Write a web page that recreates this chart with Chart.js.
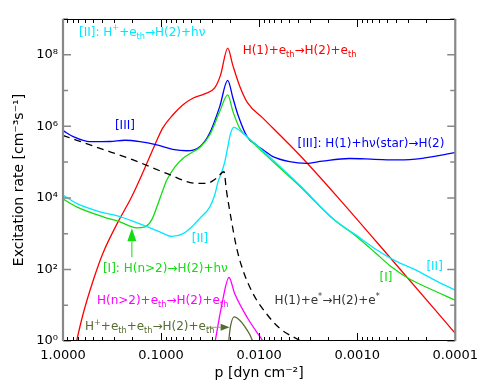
<!DOCTYPE html>
<html>
<head>
<meta charset="utf-8">
<script src="https://cdn.jsdelivr.net/npm/chart.js@4.4.1/dist/chart.umd.min.js"></script>
<style>
  html, body { margin: 0; padding: 0; background: #fff; }
</style>
</head>
<body>
<canvas id="chart" width="485" height="388"></canvas>
<script>
// axis ticks
const xMajor = [1, 0.1, 0.01, 0.001, 0.0001];
const xTickLabels = ['1.0000', '0.1000', '0.0100', '0.0010', '0.0001'];
const xMinorMantissa = [2, 3, 4, 5, 6, 7, 8, 9];
const yDecades = [1, 1e1, 1e2, 1e3, 1e4, 1e5, 1e6, 1e7, 1e8, 1e9];
const yMajor = [1, 1e2, 1e4, 1e6, 1e8];
const yTickLabels = ['10⁰', '10²', '10⁴', '10⁶', '10⁸'];

// H(1)+e_th -> H(2)+e_th
const redP = [0.764, 0.7255, 0.621, 0.4915, 0.3916, 0.2755, 0.1999, 0.1463, 0.1158, 0.096, 0.076, 0.0601, 0.0475, 0.0359, 0.0284, 0.0247, 0.0209, 0.0186, 0.0158, 0.0131, 0.0092, 0.00387, 0.00152, 0.000438, 0.0001];
const redRate = [0.5, 1, 5.96, 50, 285, 2100, 10550, 68400, 3.01e5, 9.02e5, 2.08e6, 3.97e6, 6.11e6, 8.07e6, 1.19e7, 2.75e7, 1.53e8, 5.23e7, 1.35e7, 4.52e6, 1.72e6, 1.58e5, 9270, 181, 1.64];

// [III] H(1)+hv(star) -> H(2)
const blueP = [1, 0.7857, 0.531, 0.3323, 0.2339, 0.1646, 0.1105, 0.076, 0.0547, 0.0403, 0.0319, 0.02523, 0.02092, 0.01848, 0.01643, 0.01325, 0.01068, 0.00879, 0.00724, 0.00489, 0.00331, 0.002258, 0.0012, 0.000667, 0.000372, 0.000217, 0.0001];
const blueRate = [7.57e5, 5.14e5, 3.72e5, 3.77e5, 4.08e5, 3.72e5, 3.01e5, 2.28e5, 2.08e5, 2.7e5, 6.53e5, 3.56e6, 1.93e7, 6.11e6, 2.08e6, 5.14e5, 3.01e5, 2.05e5, 1.42e5, 1.03e5, 9.25e4, 1.07e5, 1.26e5, 1.2e5, 1.15e5, 1.28e5, 1.83e5];

// [I] H(n>2) -> H(2)+hv
const greenP = [1, 0.7255, 0.3889, 0.263, 0.1778, 0.1463, 0.1251, 0.1105, 0.0983, 0.0874, 0.0725, 0.0596, 0.0486, 0.0403, 0.0319, 0.02523, 0.02092, 0.01848, 0.01579, 0.013, 0.00387, 0.001704, 0.001025, 0.000641, 0.00047, 0.000299, 0.000184, 0.0001];
const greenRate = [9270, 5640, 2960, 2145, 1457, 1553, 2393, 5540, 1.36e4, 3.15e4, 7.29e4, 1.28e5, 1.86e5, 2.56e5, 5.74e5, 2.58e6, 7.56e6, 2.58e6, 8.84e5, 4.82e5, 2.14e4, 2393, 853, 280, 131.5, 55.8, 29.3, 13.8];

// [II] H+ + e_th -> H(2)+hv
const cyanP = [1, 0.7255, 0.4201, 0.263, 0.1523, 0.103, 0.0777, 0.0596, 0.0472, 0.0403, 0.0319, 0.02837, 0.02626, 0.02408, 0.02244, 0.02077, 0.01973, 0.01818, 0.01462, 0.013, 0.00387, 0.001704, 0.001025, 0.000641, 0.000408, 0.000251, 0.000157, 0.0001];
const cyanRate = [1.2e4, 7030, 4085, 3000, 1734, 1127, 838, 1003, 1679, 2670, 5540, 1.2e4, 2.77e4, 5.28e4, 9.91e4, 2.82e5, 5.74e5, 9.3e5, 6.4e5, 4.9e5, 2.29e4, 2393, 910, 362, 174, 95.3, 47.8, 26.3];

// H(1)+e* -> H(2)+e*
const darkP = [1, 0.4201, 0.1925, 0.088, 0.04356, 0.03447, 0.02726, 0.02282, 0.02158, 0.01919, 0.01706, 0.01462, 0.01156, 0.00845, 0.00618, 0.00378];
const darkRate = [5.56e5, 2.43e5, 1.15e5, 4.86e4, 2.55e4, 2.55e4, 3.52e4, 5.38e4, 1.66e4, 2393, 428, 95.3, 21.2, 5.85, 2.27, 1];

// H(n>2)+e_th -> H(2)+e_th
const magentaP = [0.02804, 0.02424, 0.0203, 0.01776, 0.01309, 0.00915];
const magentaRate = [1, 8.95, 59.6, 21.2, 4.32, 1];

// H+ + e_th + e_th -> H(2)+e_th
const oliveP = [0.02043, 0.01963, 0.01797, 0.01579, 0.01405, 0.0125, 0.01164];
const oliveRate = [1, 2.47, 4.7, 3.8, 2.58, 1.54, 1];

const FONT = '"DejaVu Sans", sans-serif';
const RED = '#ff0000', BLUE = '#0000ff', GREEN = '#11dd11', CYAN = '#00e8ff',
      MAGENTA = '#ff00ff', OLIVE = '#556b2f', DARK = '#333333';

// text labels, placed in data coordinates (left edge, vertical middle)
const notes = [
  { p: 0.687, r: 4.1e8, color: CYAN, text: '[II]: H^{+}+e_{th}→H(2)+hν' },
  { p: 0.01472, r: 1.29e8, color: RED, text: 'H(1)+e_{th}→H(2)+e_{th}' },
  { p: 0.2956, r: 1.03e6, color: BLUE, text: '[III]' },
  { p: 0.00406, r: 3.21e5, color: BLUE, text: '[III]: H(1)+hν(star)→H(2)' },
  { p: 0.0486, r: 703, color: CYAN, text: '[II]' },
  { p: 0.3916, r: 101.7, color: GREEN, text: '[I]: H(n>2)→H(2)+hν' },
  { p: 0.4508, r: 12.9, color: MAGENTA, text: 'H(n>2)+e_{th}→H(2)+e_{th}' },
  { p: 0.597, r: 2.42, color: OLIVE, text: 'H^{+}+e_{th}+e_{th}→H(2)+e_{th}' },
  { p: 0.00695, r: 12.9, color: DARK, text: 'H(1)+e^{*}→H(2)+e^{*}' },
  { p: 0.000593, r: 56.9, color: GREEN, text: '[I]' },
  { p: 0.000197, r: 119, color: CYAN, text: '[II]' }
];

const arrows = [
  { p0: 0.1985, r0: 220, p1: 0.1985, r1: 1413, line: GREEN, head: GREEN, len: 13, w: 9 },
  { p0: 0.0341, r0: 2.42, p1: 0.0200, r1: 2.42, line: '#999999', head: OLIVE, len: 9, w: 7 }
];

function pts(ps, rs) {
  return ps.map((p, i) => ({ x: p, y: rs[i] }));
}

function parseRich(s) {
  const parts = [];
  const re = /([_^])\{([^}]*)\}|([^_^]+)/g;
  let m;
  while ((m = re.exec(s))) {
    if (m[1]) parts.push({ t: m[2], mode: m[1] === '_' ? 'sub' : 'sup' });
    else parts.push({ t: m[3], mode: '' });
  }
  return parts;
}

function drawRich(ctx, x, y, s, size, color) {
  ctx.fillStyle = color;
  ctx.textBaseline = 'middle';
  ctx.textAlign = 'left';
  for (const part of parseRich(s)) {
    const sz = part.mode ? size * 0.68 : size;
    const dy = part.mode === 'sub' ? size * 0.32 : part.mode === 'sup' ? -size * 0.38 : 0;
    ctx.font = sz + 'px ' + FONT;
    ctx.fillText(part.t, x, y + dy);
    x += ctx.measureText(part.t).width;
  }
}

const findMajor = (list, v) => list.findIndex(m => Math.abs(m - v) / m < 1e-6);

const framePlugin = {
  id: 'frame',
  afterDatasetsDraw(chart) {
    const { ctx, chartArea: a, scales: { x, y } } = chart;
    ctx.save();

    // inward ticks, x on top and bottom (majors from the scale, minors in between)
    const xTicks = [];
    x.ticks.forEach(t => {
      xTicks.push({ v: t.value, len: 8 });
      if (t.value < 1) xMinorMantissa.forEach(k => xTicks.push({ v: k * t.value, len: 4 }));
    });
    ctx.strokeStyle = '#000';
    ctx.lineWidth = 1;
    ctx.beginPath();
    xTicks.forEach(t => {
      const px = Math.round(x.getPixelForValue(t.v)) + 0.5;
      ctx.moveTo(px, a.bottom); ctx.lineTo(px, a.bottom - t.len);
      ctx.moveTo(px, a.top); ctx.lineTo(px, a.top + t.len);
    });
    ctx.stroke();

    // y ticks left and right
    ctx.strokeStyle = '#888';
    ctx.lineWidth = 1.5;
    ctx.beginPath();
    y.ticks.forEach(t => {
      const py = y.getPixelForValue(t.value);
      const len = findMajor(yMajor, t.value) >= 0 ? 8 : 5;
      ctx.moveTo(a.left, py); ctx.lineTo(a.left + len, py);
      ctx.moveTo(a.right, py); ctx.lineTo(a.right - len, py);
    });
    ctx.stroke();

    // frame
    ctx.strokeStyle = '#000';
    ctx.lineWidth = 1;
    ctx.beginPath();
    ctx.moveTo(a.left, Math.round(a.top) + 0.5); ctx.lineTo(a.right, Math.round(a.top) + 0.5);
    ctx.moveTo(a.left, Math.round(a.bottom) - 0.5); ctx.lineTo(a.right, Math.round(a.bottom) - 0.5);
    ctx.stroke();
    ctx.strokeStyle = '#888';
    ctx.lineWidth = 2.2;
    ctx.beginPath();
    ctx.moveTo(a.left, a.top); ctx.lineTo(a.left, a.bottom);
    ctx.moveTo(a.right, a.top); ctx.lineTo(a.right, a.bottom);
    ctx.stroke();

    // arrows
    arrows.forEach(ar => {
      const x0 = x.getPixelForValue(ar.p0), y0 = y.getPixelForValue(ar.r0);
      const x1 = x.getPixelForValue(ar.p1), y1 = y.getPixelForValue(ar.r1);
      const ang = Math.atan2(y1 - y0, x1 - x0);
      const bx = x1 - ar.len * Math.cos(ang), by = y1 - ar.len * Math.sin(ang);
      ctx.strokeStyle = ar.line;
      ctx.lineWidth = 1;
      ctx.beginPath();
      ctx.moveTo(x0, y0); ctx.lineTo(bx, by);
      ctx.stroke();
      const nx = -Math.sin(ang) * ar.w / 2, ny = Math.cos(ang) * ar.w / 2;
      ctx.fillStyle = ar.head;
      ctx.beginPath();
      ctx.moveTo(x1, y1);
      ctx.lineTo(bx + nx, by + ny);
      ctx.lineTo(bx - nx, by - ny);
      ctx.closePath();
      ctx.fill();
    });

    // labels
    notes.forEach(n => {
      drawRich(ctx, x.getPixelForValue(n.p), y.getPixelForValue(n.r), n.text, 12, n.color);
    });
    ctx.restore();
  }
};

const line = (data, color, extra) => Object.assign({
  data, borderColor: color, borderWidth: 1.3, pointRadius: 0,
  fill: false, cubicInterpolationMode: 'monotone'
}, extra || {});

new Chart(document.getElementById('chart'), {
  type: 'line',
  data: {
    datasets: [
      line(pts(darkP, darkRate), '#000000', { borderDash: [7, 5], borderWidth: 1.3 }),
      line(pts(oliveP, oliveRate), OLIVE),
      line(pts(magentaP, magentaRate), MAGENTA),
      line(pts(cyanP, cyanRate), CYAN),
      line(pts(greenP, greenRate), GREEN),
      line(pts(blueP, blueRate), BLUE),
      line(pts(redP, redRate), RED)
    ]
  },
  options: {
    responsive: false,
    animation: false,
    devicePixelRatio: 1,
    layout: { padding: { top: 19, right: 29, left: 0, bottom: 0 } },
    plugins: { legend: { display: false }, tooltip: { enabled: false } },
    scales: {
      x: {
        type: 'logarithmic',
        reverse: true,
        min: 0.0001,
        max: 1,
        afterBuildTicks: s => { s.ticks = xMajor.map(v => ({ value: v })); },
        afterFit: s => { s.height = 47; },
        grid: { display: false, drawTicks: false },
        border: { display: false },
        ticks: {
          autoSkip: false,
          maxRotation: 0,
          padding: 7,
          color: '#000',
          font: { family: FONT, size: 13 },
          callback: v => {
            const i = findMajor(xMajor, v);
            return i >= 0 ? xTickLabels[i] : '';
          }
        },
        title: {
          display: true,
          text: 'p [dyn cm⁻²]',
          color: '#000',
          font: { family: FONT, size: 14 },
          padding: { top: 0, bottom: 6 }
        }
      },
      y: {
        type: 'logarithmic',
        min: 1,
        max: 1e9,
        afterBuildTicks: s => { s.ticks = yDecades.map(v => ({ value: v })); },
        afterFit: s => { s.width = 63; },
        grid: { display: false, drawTicks: false },
        border: { display: false },
        ticks: {
          autoSkip: false,
          padding: 5,
          color: '#000',
          font: { family: FONT, size: 13 },
          callback: v => {
            const i = findMajor(yMajor, v);
            return i >= 0 ? yTickLabels[i] : '';
          }
        },
        title: {
          display: true,
          text: 'Excitation rate [cm⁻³s⁻¹]',
          color: '#000',
          font: { family: FONT, size: 14 },
          padding: { top: 11, bottom: 0 }
        }
      }
    }
  },
  plugins: [framePlugin]
});
</script>
</body>
</html>
